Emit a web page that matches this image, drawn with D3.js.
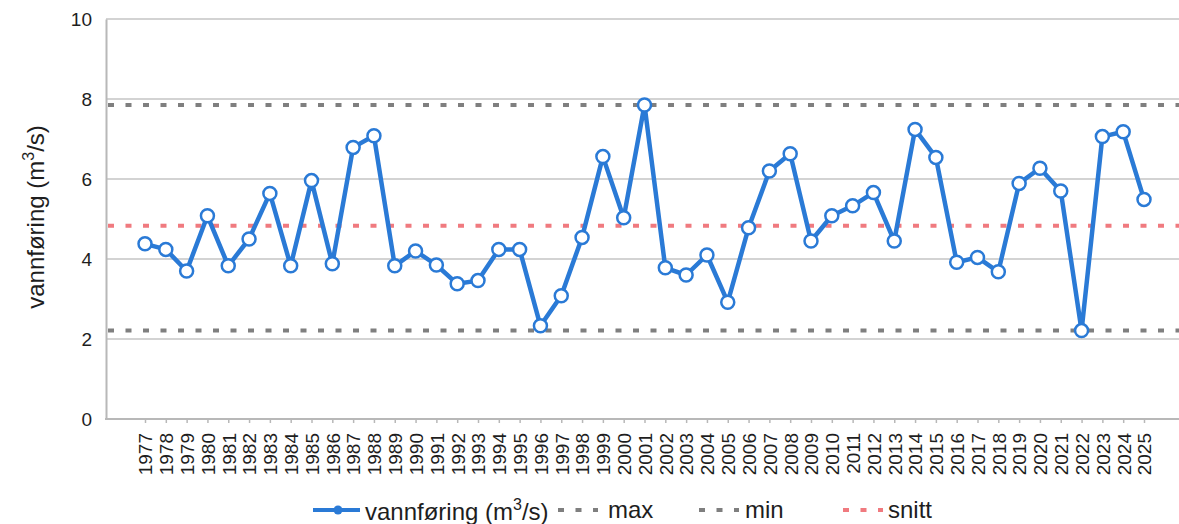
<!DOCTYPE html>
<html>
<head>
<meta charset="utf-8">
<script src="https://cdn.jsdelivr.net/npm/d3@7"></script>
<style>
  html, body { margin: 0; padding: 0; background: #fff; }
  svg { display: block; font-family: "Liberation Sans", Arial, sans-serif; }
</style>
</head>
<body>
<svg id="chart" width="1179" height="524"></svg>
<script>
const years = [1977,1978,1979,1980,1981,1982,1983,1984,1985,1986,1987,1988,1989,1990,1991,1992,1993,1994,1995,1996,1997,1998,1999,2000,2001,2002,2003,2004,2005,2006,2007,2008,2009,2010,2011,2012,2013,2014,2015,2016,2017,2018,2019,2020,2021,2022,2023,2024,2025];
const flow = [4.38,4.24,3.70,5.08,3.83,4.50,5.64,3.83,5.96,3.88,6.79,7.08,3.83,4.20,3.85,3.38,3.46,4.24,4.24,2.33,3.08,4.54,6.56,5.03,7.85,3.78,3.60,4.10,2.92,4.78,6.20,6.63,4.45,5.08,5.33,5.66,4.45,7.24,6.54,3.92,4.04,3.68,5.89,6.27,5.70,2.21,7.06,7.18,5.49];
const maxVal = 7.85;
const minVal = 2.21;
const meanVal = 4.83;
const yTicks = [0, 2, 4, 6, 8, 10];
const legendLabels = ["max", "min", "snitt"];

const svg = d3.select("#chart");
const pLeft = 106, pRight = 1179, pTop = 19, pBottom = 419;

const x = d3.scalePoint().domain(years).range([145, 1144]);
const y = d3.scaleLinear().domain([0, 10]).range([pBottom, pTop]);

const blue = "#2a7ad6", grey = "#7f7f7f", pink = "#f07a7f", textCol = "#1e1e1e";

// gridlines
svg.append("g").selectAll("line").data(yTicks.filter(d => d > 0)).join("line")
  .attr("x1", pLeft).attr("x2", pRight)
  .attr("y1", d => y(d)).attr("y2", d => y(d))
  .attr("stroke", "#c4c4c4").attr("stroke-width", 1.5);

// y axis
const yAxis = svg.append("g").attr("transform", `translate(${pLeft},0)`)
  .call(d3.axisLeft(y).tickValues(yTicks).tickSize(0).tickPadding(14));
yAxis.select(".domain").attr("stroke", "#b8b8b8").attr("stroke-width", 2);
yAxis.selectAll("text").attr("font-size", 19).attr("fill", textCol)
  .attr("font-family", "Liberation Sans, Arial, sans-serif");

// x axis
svg.append("line").attr("x1", pLeft - 1).attr("x2", pRight).attr("y1", pBottom).attr("y2", pBottom)
  .attr("stroke", "#b8b8b8").attr("stroke-width", 2);
const xAxis = svg.append("g").attr("transform", `translate(0,${pBottom})`)
  .call(d3.axisBottom(x).tickSize(4).tickPadding(6));
xAxis.select(".domain").remove();
xAxis.selectAll(".tick line").attr("stroke", "#b8b8b8").attr("stroke-width", 1.5);
xAxis.selectAll("text")
  .attr("font-size", 19).attr("fill", textCol)
  .attr("font-family", "Liberation Sans, Arial, sans-serif")
  .attr("transform", "rotate(-90)")
  .attr("text-anchor", "end")
  .attr("x", -14).attr("y", 0).attr("dy", "0.36em");

// reference dashed lines
const refs = [{v: maxVal, c: grey}, {v: minVal, c: grey}, {v: meanVal, c: pink}];
svg.append("g").selectAll("line").data(refs).join("line")
  .attr("x1", pLeft + 2).attr("x2", pRight)
  .attr("y1", d => y(d.v)).attr("y2", d => y(d.v))
  .attr("stroke", d => d.c).attr("stroke-width", 4)
  .attr("stroke-dasharray", "6 11.5").attr("stroke-linecap", "butt");

// data line
const line = d3.line().x((d, i) => x(years[i])).y(d => y(d));
svg.append("path").datum(flow).attr("d", line)
  .attr("fill", "none").attr("stroke", blue).attr("stroke-width", 4.5)
  .attr("stroke-linejoin", "round");
svg.append("g").selectAll("circle").data(flow).join("circle")
  .attr("cx", (d, i) => x(years[i])).attr("cy", d => y(d)).attr("r", 6.5)
  .attr("fill", "#fff").attr("stroke", blue).attr("stroke-width", 2.5);

// y title
const yt = svg.append("text")
  .attr("transform", "translate(44,217) rotate(-90)")
  .attr("text-anchor", "middle").attr("font-size", 24).attr("fill", textCol);
yt.append("tspan").text("vannføring (m");
yt.append("tspan").text("3").attr("font-size", 16).attr("dy", -10);
yt.append("tspan").text("/s)").attr("dy", 10);

// legend
const lg = svg.append("g");
const ly = 510, lby = 520;
lg.append("line").attr("x1", 313).attr("x2", 360).attr("y1", ly).attr("y2", ly)
  .attr("stroke", blue).attr("stroke-width", 4);
lg.append("circle").attr("cx", 338).attr("cy", ly).attr("r", 4.5).attr("fill", blue);
const lt = lg.append("text").attr("x", 365).attr("y", lby).attr("font-size", 24).attr("fill", textCol);
lt.append("tspan").text("vannføring (m");
lt.append("tspan").text("3").attr("font-size", 16).attr("dy", -10);
lt.append("tspan").text("/s)").attr("dy", 10);

const legItems = [
  {label: legendLabels[0], c: grey, x0: 558, tx: 608},
  {label: legendLabels[1], c: grey, x0: 699, tx: 745},
  {label: legendLabels[2], c: pink, x0: 843, tx: 888}
];
legItems.forEach(it => {
  lg.append("line").attr("x1", it.x0).attr("x2", it.x0 + 40).attr("y1", ly).attr("y2", ly)
    .attr("stroke", it.c).attr("stroke-width", 4).attr("stroke-dasharray", "6 11.5");
  lg.append("text").attr("x", it.tx).attr("y", lby - 2).attr("font-size", 24)
    .attr("fill", textCol).text(it.label);
});
</script>
</body>
</html>
